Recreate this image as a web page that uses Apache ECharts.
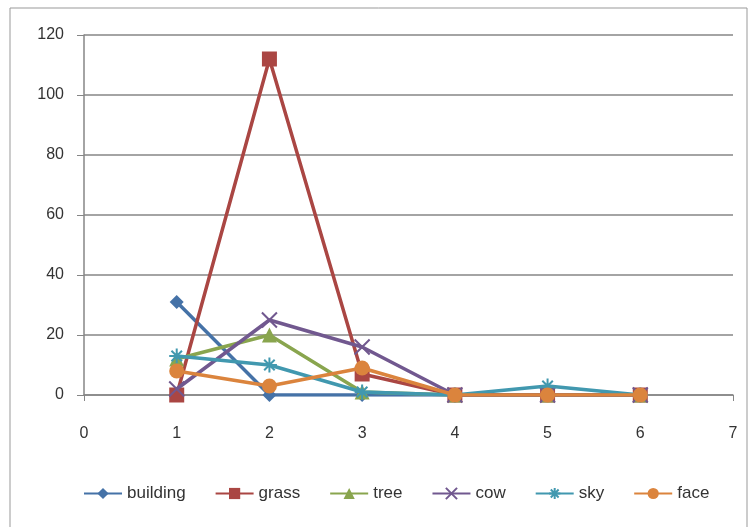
<!DOCTYPE html>
<html><head><meta charset="utf-8">
<script src="https://cdn.jsdelivr.net/npm/echarts@6/dist/echarts.min.js"></script>
<style>html,body{margin:0;padding:0;background:#fff}#c{width:751px;height:527px}</style>
</head><body><div id="c"></div>
<script>
const xValues = [1, 2, 3, 4, 5, 6];
const building = [31, 0, 0, 0, 0, 0];
const grass = [0, 112, 7, 0, 0, 0];
const tree = [12, 20, 1, 0, 0, 0];
const cow = [2, 25, 16, 0, 0, 0];
const sky = [13, 10, 1, 0, 3, 0];
const face = [8, 3, 9, 0, 0, 0];
const seriesNames = ['building', 'grass', 'tree', 'cow', 'sky', 'face'];
const colors = ['#4572A7', '#AA4643', '#89A54E', '#71588F', '#4198AF', '#DB843D'];

const xPath = 'path://M0,0L10,10M10,0L0,10';
const starPath = 'path://M5,0L5,10M0,5L10,5M1.5,1.5L8.5,8.5M8.5,1.5L1.5,8.5';
const symbols = ['diamond', 'rect', 'triangle', xPath, starPath, 'circle'];
const sizes = [14, 15, 15, 15, 15, 15];
const allData = [building, grass, tree, cow, sky, face];

const chart = echarts.init(document.getElementById('c'));
chart.setOption({
  animation: false,
  textStyle: { fontFamily: 'Liberation Sans', color: '#333' },
  graphic: [{ type: 'rect', shape: { x: 10, y: 8, width: 737, height: 530 }, style: { fill: 'none', stroke: '#999', lineWidth: 1 } }],
  grid: { left: 84, right: 18, top: 35, bottom: 132 },
  xAxis: {
    type: 'value', min: 0, max: 7, interval: 1,
    axisLine: { lineStyle: { color: '#868686', width: 1.5 } },
    axisTick: { show: true, length: 6, lineStyle: { color: '#868686' } },
    axisLabel: { color: '#333', fontSize: 16, margin: 31 },
    splitLine: { show: false }
  },
  yAxis: {
    type: 'value', min: 0, max: 120, interval: 20,
    axisLine: { show: true, lineStyle: { color: '#868686', width: 1.5 } },
    axisTick: { show: true, length: 7, lineStyle: { color: '#868686' } },
    axisLabel: { color: '#333', fontSize: 16, margin: 20 },
    splitLine: { lineStyle: { color: '#868686', width: 1.5 } }
  },
  legend: {
    bottom: 20, left: 78, itemGap: 29, itemWidth: 38, itemHeight: 14,
    textStyle: { fontSize: 17, color: '#333' },
    data: seriesNames
  },
  series: seriesNames.map((n, i) => ({
    name: n, type: 'line',
    data: xValues.map((x, j) => [x, allData[i][j]]),
    symbol: symbols[i], symbolSize: sizes[i],
    itemStyle: { color: colors[i], borderColor: colors[i], borderWidth: (i === 3 || i === 4) ? 2 : 0 },
    lineStyle: { color: colors[i], width: 3.5 },
    z: 2 + i
  }))
});
</script></body></html>
